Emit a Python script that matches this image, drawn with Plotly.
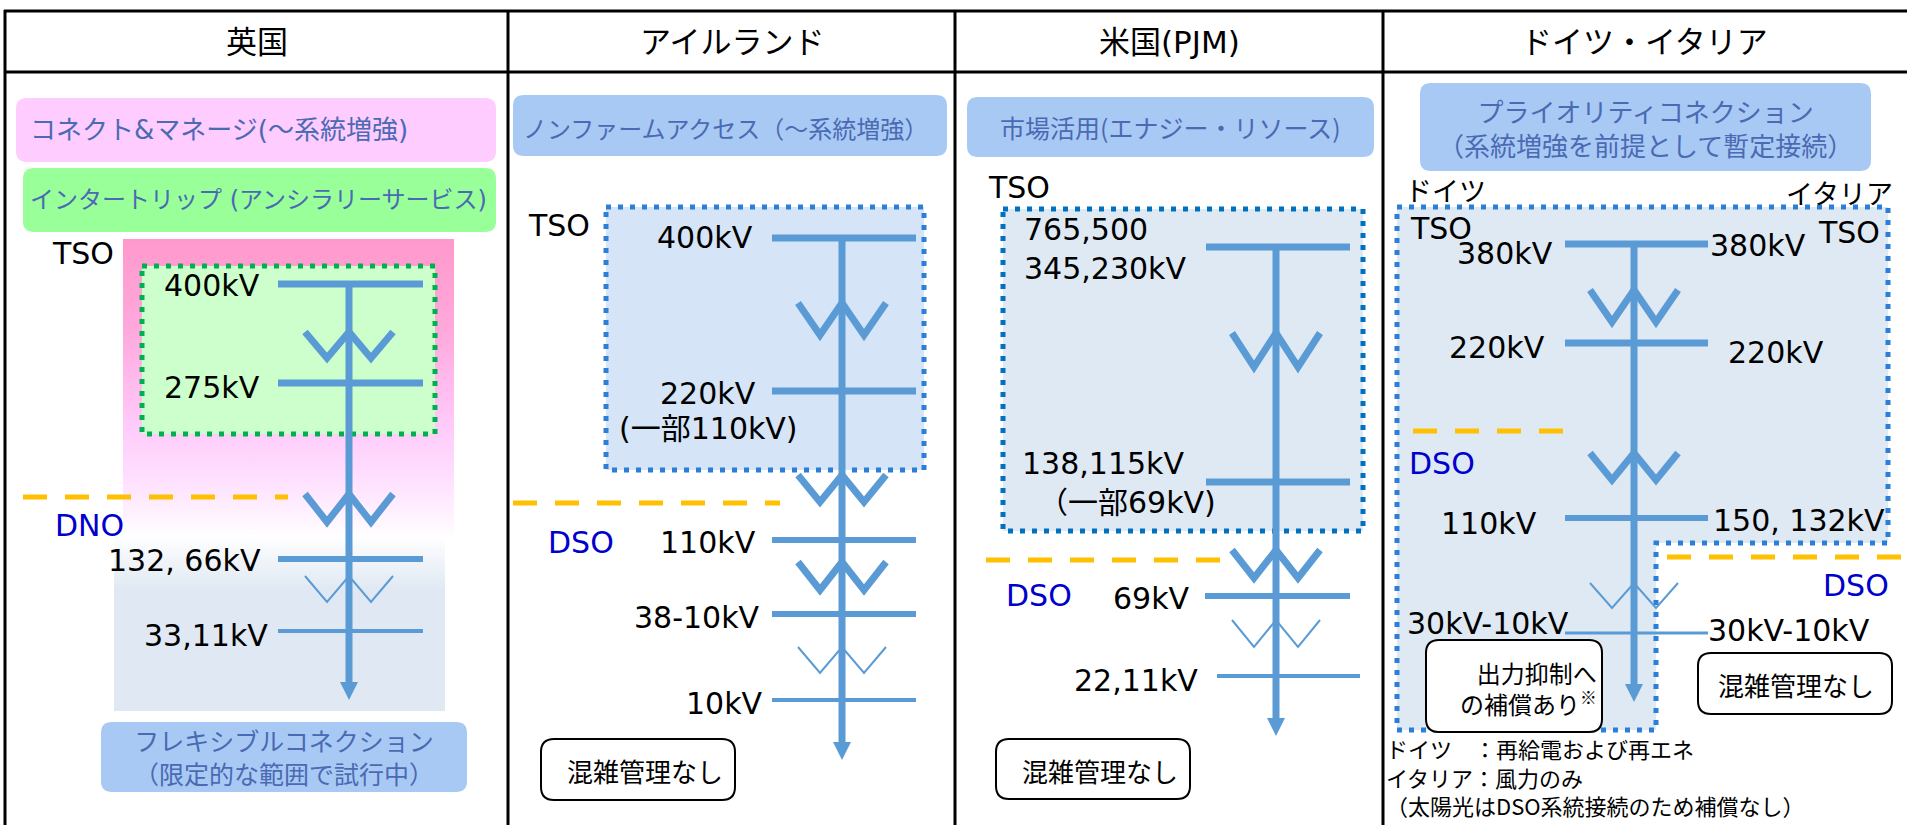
import plotly.graph_objects as go

W, H = 1907, 825
FONT_JP = "Noto Sans CJK JP"
FONT_MIX = "DejaVu Sans, Noto Sans CJK JP"

BUS = "#5B9BD5"
BOX_TEXT = "#4A6AB3"
SPLIT = "#FFC000"
OPERATOR = "#0000CC"
BOX_BLUE = "#A9C9F5"

# ---------------- content ----------------
COUNTRIES = ["英国", "アイルランド", "米国(PJM)", "ドイツ・イタリア"]

UK_SCHEMES = ["コネクト&マネージ(～系統増強)", "インタートリップ (アンシラリーサービス)",
              "フレキシブルコネクション<br>（限定的な範囲で試行中）"]
UK_OPERATORS = ["TSO", "DNO"]
UK_VOLTAGES = ["400kV", "275kV", "132, 66kV", "33,11kV"]

IE_SCHEMES = ["ノンファームアクセス（～系統増強）", "混雑管理なし"]
IE_OPERATORS = ["TSO", "DSO"]
IE_VOLTAGES = ["400kV", "220kV", "110kV", "38-10kV", "10kV"]
IE_NOTE = "(一部110kV)"

US_SCHEMES = ["市場活用(エナジー・リソース)", "混雑管理なし"]
US_OPERATORS = ["TSO", "DSO"]
US_VOLTAGES = ["765,500<br>345,230kV", "138,115kV", "69kV", "22,11kV"]
US_NOTE = "（一部69kV)"

DE_IT_SCHEMES = ["プライオリティコネクション<br>（系統増強を前提として暫定接続）",
                 "出力抑制へ<br>の補償あり<sup>※</sup>", "混雑管理なし"]
DE_IT_NAMES = ["ドイツ", "イタリア"]
DE_OPERATORS = ["TSO", "DSO"]
IT_OPERATORS = ["TSO", "DSO"]
DE_VOLTAGES = ["380kV", "220kV", "110kV", "30kV-10kV"]
IT_VOLTAGES = ["380kV", "220kV", "150, 132kV", "30kV-10kV"]
FOOTNOTES = ["ドイツ　：再給電および再エネ", "イタリア：風力のみ", "（太陽光はDSO系統接続のため補償なし）"]

# ---------------- layout geometry ----------------
COL_EDGES = [5, 508, 955, 1383, 1920]
UK_BUS_Y, UK_BUS_W = [284, 383, 559, 631], [7, 7, 6, 4]
UK_LABEL_Y = [285, 387, 560, 635]
UK_LABEL_R = [262, 262, 263, 270]
IE_BUS_Y, IE_BUS_W = [238, 391, 540, 614, 700], [7, 7, 6, 6, 4]
IE_LABEL_Y = [237, 393, 542, 617, 703]
IE_LABEL_R = [755, 758, 758, 762, 765]
US_BUS_Y, US_BUS_W = [247, 482, 596, 676], [7, 7, 6, 4]
DE_BUS_Y, DE_BUS_W = [244, 343, 518, 633], [7, 7, 6, 3]

shapes = []
annotations = []
traces = []


def add_shape(**kw):
    kw.setdefault("xref", "x")
    kw.setdefault("yref", "y")
    kw.setdefault("layer", "above")
    shapes.append(kw)


def text(x, y, s, size=30, color="black", xanchor="left", family=FONT_MIX, align="left",
         yanchor="middle"):
    annotations.append(dict(x=x, y=y, xref="x", yref="y", text=s, showarrow=False,
                            xanchor=xanchor, yanchor=yanchor, align=align,
                            font=dict(family=family, size=size, color=color)))


def rounded(x0, y0, x1, y1, r):
    return (f"M{x0+r},{y0} L{x1-r},{y0} Q{x1},{y0} {x1},{y0+r} "
            f"L{x1},{y1-r} Q{x1},{y1} {x1-r},{y1} L{x0+r},{y1} "
            f"Q{x0},{y1} {x0},{y1-r} L{x0},{y0+r} Q{x0},{y0} {x0+r},{y0} Z")


def scheme_box(x0, y0, x1, y1, fill):
    add_shape(type="path", path=rounded(x0, y0, x1, y1, 11), fillcolor=fill, line=dict(width=0))


def plain_box(x0, y0, x1, y1):
    add_shape(type="path", path=rounded(x0, y0, x1, y1, 13), fillcolor="white",
              line=dict(color="black", width=2))


def dotted_region(path, fill, color):
    add_shape(type="path", path=path, fillcolor=fill,
              line=dict(color=color, width=5, dash="5px,7px"))


def rect_path(x0, y0, x1, y1):
    return f"M{x0},{y0} L{x1},{y0} L{x1},{y1} L{x0},{y1} Z"


def split_line(x0, x1, y):
    add_shape(type="line", x0=x0, x1=x1, y0=y, y1=y,
              line=dict(color=SPLIT, width=5, dash="24px,18px"))


def bus(x0, x1, y, w):
    add_shape(type="line", x0=x0, x1=x1, y0=y, y1=y, line=dict(color=BUS, width=w))


def transformer(xc, yt, yb, thick=True):
    s = 44
    p = f"M{xc-s},{yt} L{xc-s/2},{yb} L{xc},{yt} L{xc+s/2},{yb} L{xc+s},{yt}"
    add_shape(type="path", path=p, line=dict(color=BUS, width=7 if thick else 2))


def trunk(xc, y0, y1):
    head, hw = 18, 9
    add_shape(type="line", x0=xc, x1=xc, y0=y0, y1=y1 - head + 1, line=dict(color=BUS, width=7))
    add_shape(type="path", path=f"M{xc-hw},{y1-head} L{xc+hw},{y1-head} L{xc},{y1} Z",
              fillcolor=BUS, line=dict(width=0))


def gradient_area(x0, x1, y0, y1, scale):
    traces.append(go.Scatter(x=[x0, x1, x1, x0, x0], y=[y0, y0, y1, y1, y0],
                             mode="lines", line=dict(width=0), fill="toself",
                             fillgradient=dict(type="vertical", colorscale=scale, start=y0, stop=y1),
                             hoverinfo="skip", showlegend=False))


# ---------------- table frame ----------------
for i, name in enumerate(COUNTRIES):
    cx = (COL_EDGES[i] + min(COL_EDGES[i + 1], 1905)) / 2
    text(cx, 42, name, size=31, xanchor="center")
for y in (11, 72):
    add_shape(type="line", x0=4, x1=W + 5, y0=y, y1=y, line=dict(color="black", width=3))
for x in COL_EDGES[:4]:
    add_shape(type="line", x0=x, x1=x, y0=10, y1=H + 5, line=dict(color="black", width=3))

# ---------------- 英国 ----------------
gradient_area(123, 454, 239, 540, [[0, "#FF99CC"], [0.3, "#FFA8DC"], [0.6, "#FFC8F8"],
                                   [0.78, "#FFDDFF"], [1, "#FFFFFF"]])
gradient_area(114, 445, 535, 711, [[0, "#FFFFFF"], [0.32, "#DFE8F3"], [1, "#DFE8F3"]])
scheme_box(16, 98, 496, 162, "#FFCCFF")
text(28, 130, UK_SCHEMES[0], size=26, color=BOX_TEXT)
scheme_box(23, 168, 496, 232, "#99FF99")
text(28, 200, UK_SCHEMES[1], size=24, color=BOX_TEXT)
dotted_region(rect_path(142, 266, 435, 434), "#CCFFCC", "#00B050")
split_line(23, 288, 497)
trunk(349, 287, 700)
for y, w in zip(UK_BUS_Y, UK_BUS_W):
    bus(278, 423, y, w)
transformer(349, 332, 358)
transformer(349, 494, 522)
transformer(349, 576, 602, thick=False)
for s, y, r in zip(UK_VOLTAGES, UK_LABEL_Y, UK_LABEL_R):
    text(r, y, s, xanchor="right")
text(50, 253, UK_OPERATORS[0])
text(53, 525, UK_OPERATORS[1], color=OPERATOR)
scheme_box(101, 722, 467, 792, BOX_BLUE)
text(284, 756, UK_SCHEMES[2], size=25, color=BOX_TEXT, xanchor="center", align="center",
     family=FONT_JP)

# ---------------- アイルランド ----------------
scheme_box(513, 95, 947, 156, BOX_BLUE)
text(521, 127, IE_SCHEMES[0], size=24, color=BOX_TEXT, family=FONT_JP)
dotted_region(rect_path(606, 207, 924, 470), "#D5E4F6", "#2B7FD8")
split_line(513, 780, 503)
trunk(842, 238, 760)
for y, w in zip(IE_BUS_Y, IE_BUS_W):
    bus(772, 916, y, w)
transformer(842, 303, 335)
transformer(842, 475, 502)
transformer(842, 562, 590)
transformer(842, 647, 673, thick=False)
for s, y, r in zip(IE_VOLTAGES, IE_LABEL_Y, IE_LABEL_R):
    text(r, y, s, xanchor="right")
text(617, 428, IE_NOTE)
text(526, 225, IE_OPERATORS[0])
text(546, 542, IE_OPERATORS[1], color=OPERATOR)
plain_box(541, 739, 735, 800)
text(645, 770, IE_SCHEMES[1], size=26, xanchor="center", family=FONT_JP)

# ---------------- 米国(PJM) ----------------
scheme_box(967, 97, 1374, 157, BOX_BLUE)
text(1170, 127, US_SCHEMES[0], size=25, color=BOX_TEXT, xanchor="center", family=FONT_JP)
dotted_region(rect_path(1003, 209, 1363, 531), "#DFE9F4", "#0070C0")
split_line(986, 1223, 560)
trunk(1276, 247, 736)
bus(1206, 1350, US_BUS_Y[0], US_BUS_W[0])
bus(1206, 1350, US_BUS_Y[1], US_BUS_W[1])
bus(1205, 1350, US_BUS_Y[2], US_BUS_W[2])
bus(1217, 1360, US_BUS_Y[3], US_BUS_W[3])
transformer(1276, 333, 367)
transformer(1276, 550, 578)
transformer(1276, 620, 647, thick=False)
text(1022, 249, US_VOLTAGES[0])
text(1020, 463, US_VOLTAGES[1])
text(1036, 502, US_NOTE)
text(1192, 598, US_VOLTAGES[2], xanchor="right")
text(1200, 680, US_VOLTAGES[3], xanchor="right")
text(986, 187, US_OPERATORS[0])
text(1004, 595, US_OPERATORS[1], color=OPERATOR)
plain_box(996, 739, 1190, 799)
text(1100, 770, US_SCHEMES[1], size=26, xanchor="center", family=FONT_JP)

# ---------------- ドイツ・イタリア ----------------
scheme_box(1420, 83, 1871, 171, BOX_BLUE)
text(1645, 127, DE_IT_SCHEMES[0], size=26, color=BOX_TEXT, xanchor="center", align="center",
     family=FONT_JP)
dotted_region("M1397,207 L1888,207 L1888,543 L1656,543 L1656,730 L1397,730 Z",
              "#DFE9F4", "#2B7FD8")
split_line(1413, 1563, 431)
split_line(1667, 1915, 557)
trunk(1634, 247, 702)
for y, w in zip(DE_BUS_Y, DE_BUS_W):
    bus(1565, 1708, y, w)
transformer(1634, 290, 322)
transformer(1634, 453, 480)
transformer(1634, 583, 608, thick=False)
text(1555, 253, DE_VOLTAGES[0], xanchor="right")
text(1547, 347, DE_VOLTAGES[1], xanchor="right")
text(1539, 523, DE_VOLTAGES[2], xanchor="right")
text(1405, 623, DE_VOLTAGES[3])
text(1708, 245, IT_VOLTAGES[0])
text(1726, 352, IT_VOLTAGES[1])
text(1711, 520, IT_VOLTAGES[2])
text(1706, 630, IT_VOLTAGES[3])
text(1403, 189, DE_IT_NAMES[0], size=27, family=FONT_JP)
text(1895, 192, DE_IT_NAMES[1], size=27, xanchor="right", family=FONT_JP)
text(1408, 228, DE_OPERATORS[0])
text(1882, 232, IT_OPERATORS[0], xanchor="right")
text(1407, 463, DE_OPERATORS[1], color=OPERATOR)
text(1891, 585, IT_OPERATORS[1], color=OPERATOR, xanchor="right")
plain_box(1426, 640, 1602, 732)
text(1528, 688, DE_IT_SCHEMES[1], size=24, xanchor="center", align="right", family=FONT_JP)
plain_box(1698, 653, 1892, 714)
text(1796, 684, DE_IT_SCHEMES[2], size=26, xanchor="center", family=FONT_JP)
text(1384, 823, "<br>".join(FOOTNOTES), size=22, family=FONT_JP, yanchor="bottom")

fig = go.Figure(data=traces)
fig.update_layout(
    width=W, height=H, margin=dict(l=0, r=0, t=0, b=0),
    paper_bgcolor="white", plot_bgcolor="white", showlegend=False,
    xaxis=dict(range=[0, W], visible=False, fixedrange=True),
    yaxis=dict(range=[H, 0], visible=False, fixedrange=True),
    shapes=shapes, annotations=annotations,
)
fig.write_html("out.html", config={"displayModeBar": False})
